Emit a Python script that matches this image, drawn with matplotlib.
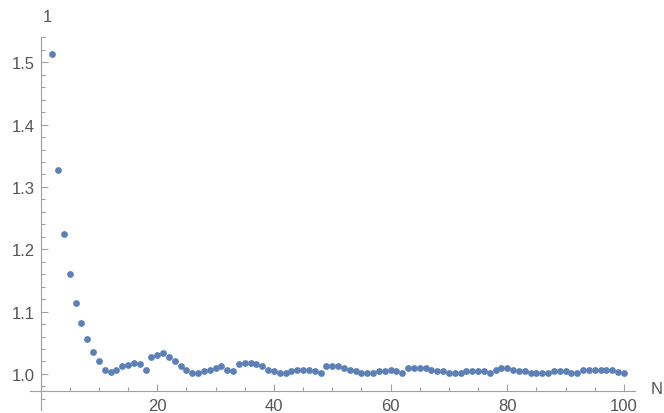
import matplotlib.pyplot as plt
from matplotlib.ticker import MultipleLocator, FixedLocator

# values, N = 2 .. 100
n_values = list(range(2, 101))
ratio = [
    1.513, 1.327, 1.225, 1.161, 1.114, 1.082, 1.056, 1.036, 1.021, 1.006,
    1.003, 1.006, 1.013, 1.015, 1.018, 1.0155, 1.006, 1.028, 1.030, 1.033,
    1.028, 1.021, 1.013, 1.006, 1.001, 1.001, 1.004, 1.006, 1.009, 1.013,
    1.006, 1.004, 1.016, 1.018, 1.018, 1.016, 1.013, 1.007, 1.004, 1.001,
    1.001, 1.004, 1.006, 1.006, 1.006, 1.004, 1.001, 1.013, 1.013, 1.013,
    1.010, 1.006, 1.004, 1.001, 1.001, 1.001, 1.004, 1.004, 1.006, 1.004,
    1.001, 1.010, 1.010, 1.010, 1.010, 1.006, 1.004, 1.004, 1.001, 1.001,
    1.001, 1.004, 1.004, 1.004, 1.004, 1.001, 1.007, 1.010, 1.010, 1.007,
    1.004, 1.004, 1.001, 1.001, 1.001, 1.001, 1.004, 1.004, 1.004, 1.001,
    1.001, 1.007, 1.007, 1.007, 1.007, 1.006, 1.006, 1.003, 1.002,
]
x_ticks = [20, 40, 60, 80, 100]
y_ticks = [1.0, 1.1, 1.2, 1.3, 1.4, 1.5]

point_color = '#5E81B5'
axis_color = '#a0a0a0'
text_color = '#555555'

plt.rcParams['font.family'] = ['Liberation Sans', 'DejaVu Sans']

fig = plt.figure(figsize=(6.64, 4.14), dpi=100)
ax = fig.add_axes([0.0452, 0.008, 0.9111, 0.901])

ax.plot(n_values, ratio, 'o', color=point_color, markersize=4.9,
        markeredgewidth=0, clip_on=False)

ax.set_xlim(-1.82, 101.9)
ax.set_ylim(0.9427, 1.541)

# axes cross like in Mathematica
ax.spines['left'].set_position(('data', 0))
ax.spines['bottom'].set_position(('data', 0.972))
ax.spines['top'].set_visible(False)
ax.spines['right'].set_visible(False)
for s in ('left', 'bottom'):
    ax.spines[s].set_color(axis_color)
    ax.spines[s].set_linewidth(0.8)

ax.xaxis.set_major_locator(FixedLocator(x_ticks))
ax.xaxis.set_minor_locator(MultipleLocator(5))
ax.yaxis.set_major_locator(FixedLocator(y_ticks))
ax.yaxis.set_minor_locator(FixedLocator([0.96 + 0.02 * i for i in range(30)]))
ax.set_xticklabels([str(t) for t in x_ticks])
ax.set_yticklabels([f'{t:.1f}' for t in y_ticks])

ax.tick_params(which='both', direction='in', color=axis_color, width=0.8,
               labelcolor=text_color, labelsize=12)
ax.tick_params(which='major', length=5)
ax.tick_params(which='minor', length=3)
ax.tick_params(axis='x', pad=5)
ax.tick_params(axis='y', pad=4)

fig.text(657 / 664, 1 - 390 / 414, 'N', color=text_color, fontsize=12,
         ha='center', va='center')
fig.text(47.3 / 664, 1 - 17 / 414, '1', color=text_color, fontsize=12,
         ha='center', va='center')

fig.savefig('out.png', dpi=100)
